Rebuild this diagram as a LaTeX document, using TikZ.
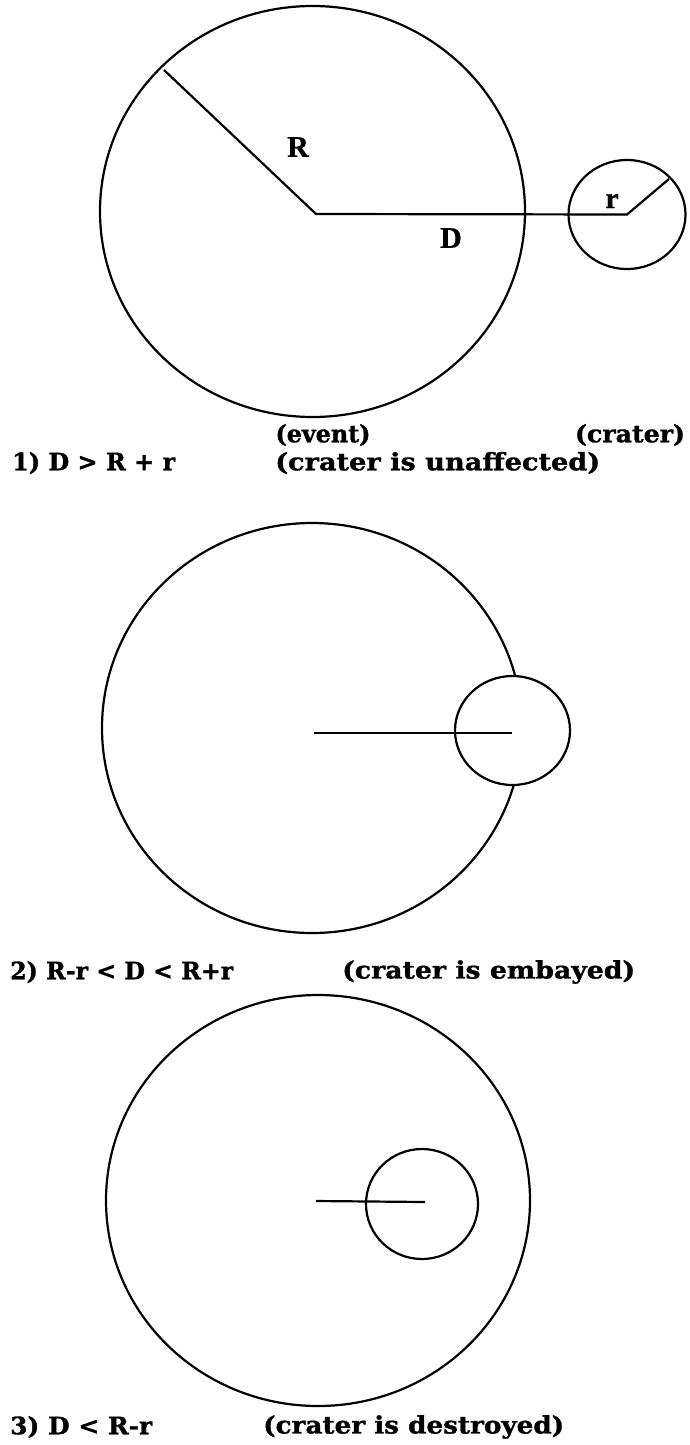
\documentclass[tikz,border=0pt]{standalone}
\usepackage{fontspec}
\usepackage{graphicx}
\setmainfont{Liberation Serif}[BoldFeatures={FakeBold=0.8}]
\newfontfamily\capfont{DejaVu Serif}[BoldFeatures={FakeBold=1.2}]
\newcommand{\fitw}[2]{\resizebox{#1}{\height}{#2}}
\begin{document}
\begin{tikzpicture}[x=1pt,y=-1pt,
  ring/.style={draw=black,line width=2.2pt},
  seg/.style={draw=black,line width=2.2pt},
  captxt/.style={inner sep=0pt,font=\capfont\bfseries\fontsize{24}{28}\selectfont,anchor=west},
  sym/.style={inner sep=0pt,font=\bfseries\fontsize{30}{34}\selectfont},
  tag/.style={inner sep=0pt,font=\capfont\bfseries\fontsize{24}{28}\selectfont}]
\useasboundingbox[fill=white] (0,0) rectangle (690,1445);

% ---------- panel 1 ----------
\coordinate (B1) at (312.5,211.5);
\coordinate (E1) at (316,214);
\coordinate (Rend) at (164,70);
\coordinate (C1) at (627,214.5);
\coordinate (rend) at (669,179);
\draw[ring] (B1) ellipse [x radius=212.5pt, y radius=205.5pt];
\draw[ring] (C1) ellipse [x radius=58.5pt, y radius=54.5pt];
\draw[seg] (Rend) -- (E1) -- (C1) -- (rend);
\node[sym] (labR) at (298,147) {R};
\node[sym] (labD) at (451,238) {D};
\node[sym] (labr) at (612,201) {r};
\node[tag] (event) at (323,435) {\fitw{95pt}{(event)}};
\node[tag] (crater) at (630,435) {\fitw{110pt}{(crater)}};
\node[captxt] (t1a) at (12,463) {\fitw{163pt}{1) D > R + r}};
\node[captxt] (t1b) at (275,463) {\fitw{325pt}{(crater is unaffected)}};

% ---------- panel 2 ----------
\coordinate (B2) at (312,728);
\coordinate (C2) at (512.5,730.5);
\coordinate (E2) at (314,733);
\coordinate (F2) at (512,733);
\draw[ring] (B2) ellipse [x radius=210pt, y radius=205pt];
\fill[white] (C2) ellipse [x radius=57.5pt, y radius=54.5pt];
\draw[ring] (C2) ellipse [x radius=57.5pt, y radius=54.5pt];
\draw[seg] (E2) -- (F2);
\node[captxt] (t2a) at (10,972) {\fitw{223pt}{2) R-r < D < R+r}};
\node[captxt] (t2b) at (342,972) {\fitw{293pt}{(crater is embayed)}};

% ---------- panel 3 ----------
\coordinate (B3) at (318,1200.5);
\coordinate (C3) at (422,1204);
\coordinate (E3) at (316,1201);
\coordinate (F3) at (425,1202);
\draw[ring] (B3) ellipse [x radius=212pt, y radius=205.5pt];
\draw[ring] (C3) ellipse [x radius=56pt, y radius=55pt];
\draw[seg] (E3) -- (F3);
\node[captxt] (t3a) at (10,1427) {\fitw{142pt}{3) D < R-r}};
\node[captxt] (t3b) at (263,1427) {\fitw{301pt}{(crater is destroyed)}};
\end{tikzpicture}
\end{document}
